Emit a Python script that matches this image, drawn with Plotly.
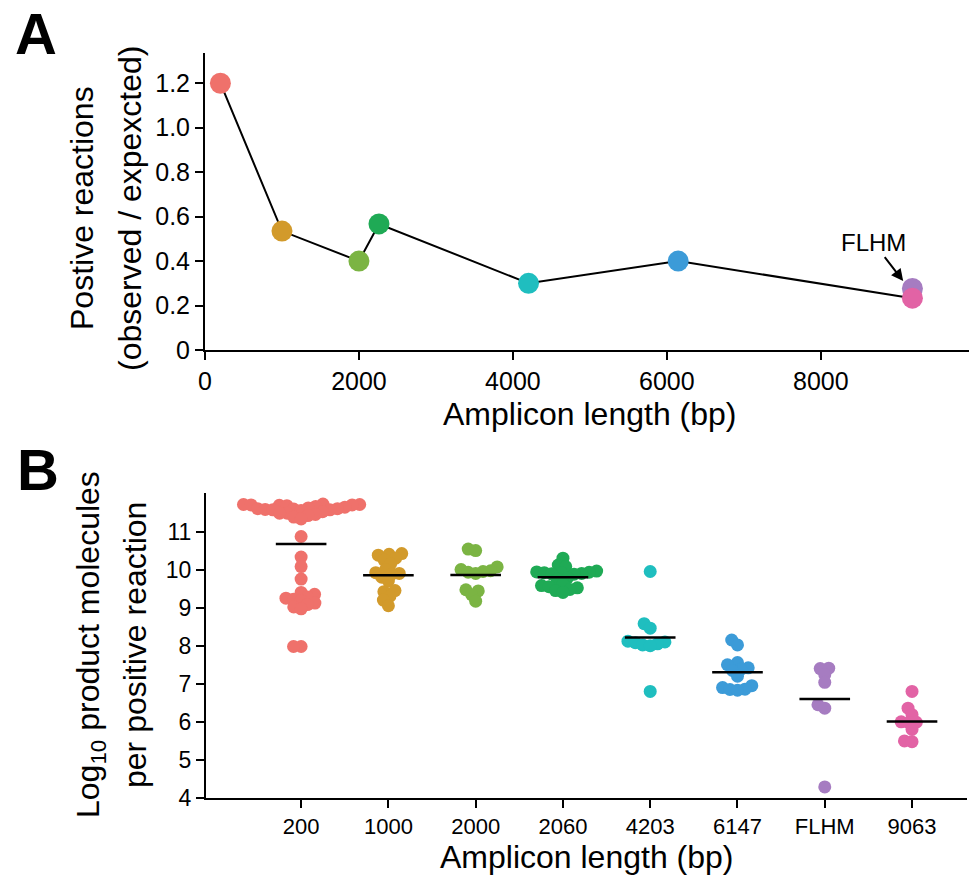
import numpy as np
import plotly.graph_objects as go

# The page body keeps its default 8px margin, so the figure is sized to fit
# inside the 977x882 window and all reference pixel positions are shifted by it.
OFF = 8
W, H = 977 - OFF, 882 - OFF
FONT = "Liberation Sans, Arial, Helvetica, sans-serif"

# ---------------- data ----------------
categories = ["200", "1000", "2000", "2060", "4203", "6147", "FLHM", "9063"]
colors = ["#EF716B", "#D29A2B", "#7BB443", "#1FAA55", "#1FBEBF", "#3C9BD8", "#A67CC1", "#E263A5"]

# Panel A
a_length = [200, 1000, 2000, 2260, 4203, 6147, 9190, 9190]
a_ratio = [1.20, 0.535, 0.40, 0.567, 0.30, 0.40, 0.277, 0.233]
a_line_members = ["200", "1000", "2000", "2060", "4203", "6147", "9063"]

# Panel B (log10 product molecules per positive reaction)
b_200 = [11.72, 11.71, 11.71, 11.70, 11.70, 11.69, 11.68, 11.66, 11.64, 11.62,
         11.60, 11.60, 11.59, 11.58, 11.57, 11.57, 11.55, 11.52, 11.48, 11.48,
         11.45, 11.42, 11.38, 11.33,
         10.87, 10.33, 10.08, 9.75,
         9.40, 9.35, 9.28, 9.25, 9.22, 9.18, 9.12, 9.08, 9.02, 8.97,
         7.98, 7.98]
b_1000 = [10.42, 10.40, 10.38, 10.30, 10.25, 10.15, 10.00, 9.92, 9.90, 9.88,
          9.80, 9.70, 9.45, 9.42, 9.30, 9.20, 9.05]
b_2000 = [10.54, 10.50, 10.07, 10.00, 9.97, 9.95, 9.93, 9.90, 9.47, 9.44, 9.34, 9.17]
b_2060 = [10.30, 10.12, 10.08, 9.96, 9.94, 9.93, 9.92, 9.91, 9.90, 9.89, 9.88,
          9.78, 9.75, 9.62, 9.58, 9.55, 9.52, 9.48, 9.45, 9.40]
b_4203 = [9.95, 8.58, 8.46, 8.12, 8.10, 8.08, 8.05, 8.02, 8.00, 6.80]
b_6147 = [8.15, 8.02, 7.56, 7.50, 7.42, 7.38, 7.35, 7.20, 6.95, 6.90, 6.86, 6.85, 6.83]
b_flhm = [7.41, 7.40, 7.24, 7.04, 6.45, 6.36, 4.29]
b_9063 = [6.80, 6.36, 6.19, 6.00, 5.99, 5.98, 5.80, 5.50, 5.48]
b_groups = [b_200, b_1000, b_2000, b_2060, b_4203, b_6147, b_flhm, b_9063]

# ---------------- layout geometry (reference window pixels) ----------------
A_X0, A_X1, A_Y0, A_Y1 = 205, 974, 53, 350
B_X0, B_X1, B_Y0, B_Y1 = 206, 967, 492.7, 798
A_XR = [0, 9990]
A_YR = [0, 1.336]
B_XR = [-1.09, 7.63]
B_YR = [4, 12.02]


def PX(x):
    return (x - OFF) / W


def PY(y):
    return 1 - (y - OFF) / H


px_per_x_b = (B_X1 - B_X0) / (B_XR[1] - B_XR[0])
px_per_y_b = (B_Y1 - B_Y0) / (B_YR[1] - B_YR[0])


def swarm_offsets(vals, d_px):
    vals = np.asarray(vals, float)
    ypx = vals * px_per_y_b
    order = np.argsort(vals, kind="stable")
    placed = []
    off = np.zeros(len(vals))
    for i in order:
        y = ypx[i]
        cands = [0.0]
        for (px, py) in placed:
            dy = abs(py - y)
            if dy < d_px:
                dx = np.sqrt(d_px * d_px - dy * dy)
                cands += [px + dx, px - dx]
        valid = [c for c in cands
                 if all((c - px) ** 2 + (y - py) ** 2 >= d_px * d_px - 1e-6 for px, py in placed)]
        best = min(valid, key=lambda c: (round(abs(c), 6), c))
        placed.append((best, y))
        off[i] = best
    return off / px_per_x_b


fig = go.Figure()

# ---- Panel A ----
line_x = [a_length[categories.index(c)] for c in a_line_members]
line_y = [a_ratio[categories.index(c)] for c in a_line_members]
fig.add_trace(go.Scatter(x=line_x, y=line_y, mode="lines",
                         line=dict(color="black", width=2), xaxis="x", yaxis="y",
                         showlegend=False, hoverinfo="skip"))
for i, c in enumerate(categories):
    fig.add_trace(go.Scatter(x=[a_length[i]], y=[a_ratio[i]], mode="markers",
                             marker=dict(color=colors[i], size=21, line=dict(width=0)),
                             xaxis="x", yaxis="y", showlegend=False, name=c,
                             cliponaxis=False))

# ---- Panel B ----
for i, vals in enumerate(b_groups):
    off = swarm_offsets(vals, 7.6)
    fig.add_trace(go.Scatter(x=i + off, y=vals, mode="markers",
                             marker=dict(color=colors[i], size=13, line=dict(width=0)),
                             xaxis="x2", yaxis="y2", showlegend=False, name=categories[i],
                             cliponaxis=False))
for i, vals in enumerate(b_groups):
    m = float(np.mean(vals))
    fig.add_trace(go.Scatter(x=[i - 0.29, i + 0.29], y=[m, m], mode="lines",
                             line=dict(color="black", width=2.5),
                             xaxis="x2", yaxis="y2", showlegend=False, hoverinfo="skip",
                             cliponaxis=False))

axis_common = dict(showline=True, linecolor="black", linewidth=2, ticks="outside",
                   ticklen=8, tickwidth=2, tickcolor="black", showgrid=False,
                   zeroline=False, mirror=False, automargin=False)

fig.update_layout(
    width=W, height=H,
    margin=dict(l=0, r=0, t=0, b=0, autoexpand=False),
    paper_bgcolor="white", plot_bgcolor="white",
    font=dict(family=FONT, color="black"),
    xaxis=dict(domain=[PX(A_X0), PX(A_X1)], range=A_XR, anchor="y",
               tickvals=[0, 2000, 4000, 6000, 8000],
               ticktext=["0", "2000", "4000", "6000", "8000"],
               tickfont=dict(size=25), **axis_common),
    yaxis=dict(domain=[PY(A_Y1), PY(A_Y0)], range=A_YR, anchor="x",
               tickvals=[0, 0.2, 0.4, 0.6, 0.8, 1.0, 1.2],
               ticktext=["0", "0.2", "0.4", "0.6", "0.8", "1.0", "1.2"],
               tickfont=dict(size=25), **axis_common),
    xaxis2=dict(domain=[PX(B_X0), PX(B_X1)], range=B_XR, anchor="y2",
                tickvals=list(range(len(categories))), ticktext=categories,
                tickfont=dict(size=22), **axis_common),
    yaxis2=dict(domain=[PY(B_Y1), PY(B_Y0)], range=B_YR, anchor="x2",
                tickvals=[4, 5, 6, 7, 8, 9, 10, 11],
                ticktext=["4", "5", "6", "7", "8", "9", "10", "11"],
                tickfont=dict(size=23), **axis_common),
)


def ptxt(x, y, text, size, angle=0, bold=False, height=None):
    fig.add_annotation(x=PX(x), y=PY(y), xref="paper", yref="paper",
                       text=("<b>%s</b>" % text) if bold else text,
                       showarrow=False, textangle=angle,
                       xanchor="center", yanchor="middle", height=height,
                       valign="middle",
                       font=dict(size=size, family=FONT, color="black"))


ptxt(36, 33, "A", 58, bold=True, height=54)
ptxt(38, 469, "B", 58, bold=True, height=54)
ptxt(589, 414, "Amplicon length (bp)", 32)
ptxt(82, 208, "Postive reactions", 32, angle=-90)
ptxt(130, 208, "(observed / expexcted)", 32, angle=-90)
ptxt(586, 857, "Amplicon length (bp)", 32)
ptxt(90, 645, "Log<sub>10</sub> product molecules", 32, angle=-90)
ptxt(135, 645, "per positive reaction", 32, angle=-90)

fig.add_annotation(x=9070, y=0.31, xref="x", yref="y", text="FLHM",
                   showarrow=True, ax=-30, ay=-39, arrowhead=2, arrowsize=1.2,
                   arrowwidth=2, arrowcolor="black",
                   font=dict(size=24, family=FONT, color="black"))

fig.write_html("out.html")
